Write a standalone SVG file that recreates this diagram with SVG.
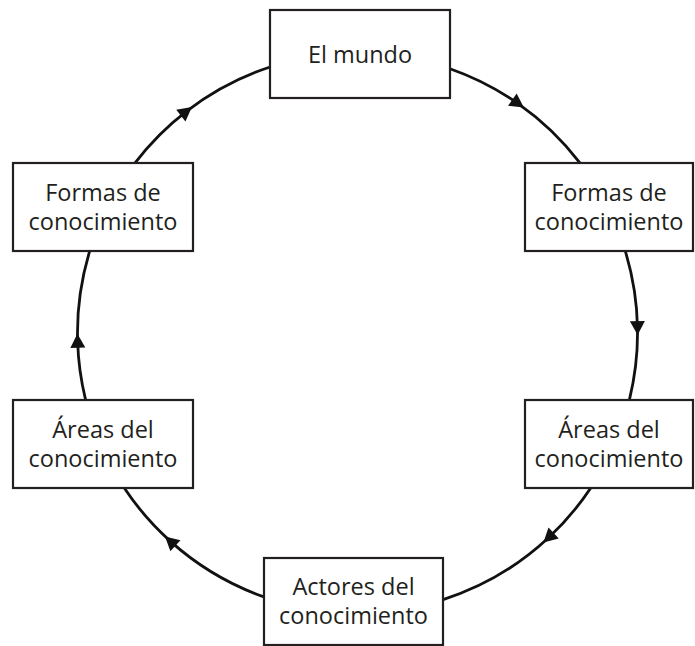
<svg xmlns="http://www.w3.org/2000/svg" width="695" height="646" viewBox="0 0 695 646">
<style>
.box{fill:#fff;stroke:#231f20;stroke-width:2.2}
.lbl{font-family:"Open Sans","Liberation Sans",sans-serif;font-size:23.5px;fill:#231f20;text-anchor:middle}
.arc{fill:none;stroke:#111;stroke-width:2.8;marker-mid:url(#ah)}
</style>
<defs>
<marker id="ah" markerUnits="userSpaceOnUse" markerWidth="20" markerHeight="20" viewBox="-10 -10 20 20" refX="0" refY="0" orient="auto" overflow="visible">
<path d="M7,0 L-7,-7.5 L-7,7.5 Z" fill="#111"/>
</marker>
</defs>
<rect width="695" height="646" fill="#fff"/>
<g id="connectors">
<path class="arc" d="M450,68.7 A280,280 0 0 1 518.1,103.6 A280,280 0 0 1 579.9,162.9"/>
<path class="arc" d="M625.3,251.1 A280,280 0 0 1 637.5,328.1 A280,280 0 0 1 629.4,399.8"/>
<path class="arc" d="M590.7,488 A280,280 0 0 1 548.5,537.8 A280,280 0 0 1 443.1,599.6"/>
<path class="arc" d="M264,596.9 A280,280 0 0 1 170.2,541.1 A280,280 0 0 1 124.3,488"/>
<path class="arc" d="M85.6,399.8 A280,280 0 0 1 77.6,340.8 A280,280 0 0 1 89.7,251.1"/>
<path class="arc" d="M135.1,162.9 A280,280 0 0 1 186.4,111.4 A280,280 0 0 1 270.1,67"/>
</g>
<g id="el-mundo">
<rect class="box" x="270" y="10" width="180" height="88"/>
<text class="lbl" x="360" y="63">El mundo</text>
</g>
<g id="formas-der">
<rect class="box" x="525" y="163" width="168" height="88"/>
<text class="lbl" x="609" y="201">Formas de<tspan x="609" y="230">conocimiento</tspan></text>
</g>
<g id="areas-der">
<rect class="box" x="525" y="400" width="168" height="88"/>
<text class="lbl" x="609" y="438">Áreas del<tspan x="609" y="467">conocimiento</tspan></text>
</g>
<g id="actores">
<rect class="box" x="264" y="558" width="179" height="87"/>
<text class="lbl" x="353.5" y="595">Actores del<tspan x="353.5" y="624">conocimiento</tspan></text>
</g>
<g id="areas-izq">
<rect class="box" x="13" y="400" width="180" height="88"/>
<text class="lbl" x="103" y="438">Áreas del<tspan x="103" y="467">conocimiento</tspan></text>
</g>
<g id="formas-izq">
<rect class="box" x="13" y="163" width="180" height="88"/>
<text class="lbl" x="103" y="201">Formas de<tspan x="103" y="230">conocimiento</tspan></text>
</g>
</svg>
